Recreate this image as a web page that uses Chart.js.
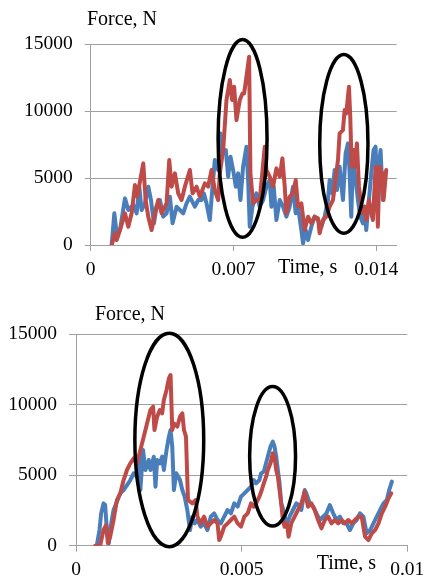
<!DOCTYPE html>
<html><head><meta charset="utf-8">
<script src="https://cdn.jsdelivr.net/npm/chart.js@4/dist/chart.umd.min.js"></script>
<style>
html,body{margin:0;padding:0;background:#fff;overflow:hidden;width:423px;height:577px;position:relative}
canvas{position:absolute;left:0}
</style></head><body>
<canvas id="c1" width="460" height="290" style="top:0px"></canvas>
<canvas id="c2" width="460" height="287" style="top:290px"></canvas>
<script>
// ---------- DATA (time in ms, force in N) ----------
const Y_TICKS = [0, 5000, 10000, 15000];
const Y_TICK_LABELS = ['0', '5000', '10000', '15000'];
const Y_TITLE = 'Force, N';
const X_TITLE = 'Time, s';

// Top chart
const TOP_X_TICKS = [0, 7, 14];
const TOP_X_TICK_LABELS = ['0', '0.007', '0.014'];
const TOP_BLUE_T = [1.028,1.158,1.272,1.436,1.680,1.843,2.088,2.251,2.382,2.496,2.659,2.822,2.953,3.100,3.230,3.393,3.556,3.719,3.883,4.013,4.209,4.372,4.535,4.698,4.861,5.106,5.269,5.432,5.546,5.677,5.840,5.971,6.085,6.248,6.362,6.493,6.623,6.737,6.852,6.982,7.113,7.227,7.341,7.471,7.635,7.716,7.798,7.928,8.124,8.287,8.450,8.613,8.777,8.858,8.972,9.103,9.266,9.429,9.592,9.755,9.918,10.049,10.163,10.326,10.408,10.538,10.653,10.816,10.979,11.142,11.305,11.468,11.631,11.713,11.843,11.958,12.072,12.202,12.365,12.496,12.610,12.692,12.773,12.855,12.985,13.100,13.214,13.344,13.426,13.507,13.638,13.752,13.866,13.964,14.029,14.127,14.209,14.290,14.323];
const TOP_BLUE_F = [0,2366,872,1121,3486,2615,2988,2366,4358,2615,3113,4358,3362,1619,2864,3362,2117,2366,3611,1619,2864,2615,2366,3113,3611,2864,3362,3362,3860,3113,1868,4358,6350,5603,8342,6848,7097,5105,6599,5603,4358,5354,3362,5852,7346,4856,1370,2864,3860,2864,3362,4358,4856,2864,4358,1868,3362,2864,2117,2864,4358,2366,2864,1121,125,1121,373,1370,2117,1868,1370,2117,3362,4856,3860,5603,4109,5852,3362,6848,7595,5354,2117,6350,4856,3362,2117,1619,2864,1121,3362,5354,7097,7346,4856,5852,7097,4358,3362];
const TOP_RED_T = [1.028,1.191,1.272,1.436,1.680,1.843,2.007,2.170,2.284,2.414,2.577,2.692,2.822,2.985,3.148,3.312,3.475,3.719,3.850,3.964,4.127,4.290,4.454,4.617,4.861,4.992,5.188,5.351,5.595,5.759,5.922,6.085,6.248,6.330,6.493,6.656,6.819,6.933,7.031,7.145,7.308,7.439,7.520,7.635,7.765,7.830,7.961,8.124,8.287,8.532,8.613,8.777,8.940,9.103,9.266,9.397,9.511,9.592,9.755,9.918,10.049,10.163,10.326,10.489,10.653,10.816,10.979,11.142,11.223,11.387,11.550,11.713,11.876,11.958,12.121,12.202,12.365,12.447,12.529,12.659,12.724,12.790,12.887,12.953,13.051,13.149,13.312,13.426,13.507,13.638,13.752,13.834,13.964,14.029,14.078,14.160,14.290,14.356,14.486];
const TOP_RED_F = [0,872,373,1121,2366,1370,2366,4482,3611,4731,6101,3362,2117,1121,2366,3362,2366,3113,6350,4358,5354,3860,3362,4358,5603,3860,4358,3611,4607,4358,5603,4109,3362,5354,7097,10832,12326,10832,11828,9338,10832,11330,11330,12575,14069,5354,3113,3362,3362,7346,5603,5105,4358,5727,5105,6474,4358,2366,3611,3860,4856,2864,3113,1121,2117,1619,2117,1992,872,1868,2117,2864,3362,4358,6350,8342,8591,10085,9836,11828,9587,5852,7097,5852,7595,4358,2366,2864,1868,3362,2366,1868,5852,3611,1370,5852,5354,3362,5603];

// Bottom chart
const BOT_X_TICKS = [0, 5, 10];
const BOT_X_TICK_LABELS = ['0', '0.005', '0.01'];
const BOT_BLUE_T = [0.628,0.709,0.759,0.830,0.881,0.931,0.992,1.063,1.134,1.235,1.336,1.437,1.538,1.640,1.741,1.842,1.893,1.943,2.024,2.095,2.196,2.247,2.348,2.399,2.449,2.530,2.601,2.652,2.733,2.804,2.854,2.905,2.955,3.026,3.087,3.138,3.209,3.279,3.360,3.441,3.512,3.583,3.664,3.765,3.866,3.968,4.069,4.170,4.271,4.372,4.474,4.575,4.676,4.777,4.879,4.980,5.081,5.182,5.283,5.364,5.435,5.536,5.587,5.668,5.789,5.870,5.941,5.992,6.043,6.093,6.144,6.194,6.245,6.296,6.377,6.447,6.549,6.650,6.731,6.802,6.903,6.953,7.055,7.156,7.257,7.358,7.459,7.561,7.662,7.763,7.864,7.966,8.067,8.168,8.269,8.370,8.472,8.573,8.674,8.775,8.877,8.978,9.079,9.180,9.281,9.383,9.453,9.534];
const BOT_BLUE_F = [0,1112,2295,3005,2887,1112,166,1585,2532,3123,3714,3951,4306,4661,5134,4898,6317,3951,6790,5371,6080,5371,6317,4188,6080,5844,6317,5371,6790,7737,8210,7027,3951,5134,4898,4661,3951,3478,2532,1112,2058,1585,1822,1349,1585,1112,2058,2295,1822,1585,2058,2532,2295,3005,2768,3478,3714,3951,4188,4661,4424,4661,5134,5253,6317,7027,7382,7027,6317,5371,4424,3005,2650,2058,1585,2058,2532,3005,2887,2532,3951,3714,3005,2768,2295,1822,2058,2295,2887,2295,1822,2058,1585,1585,1112,1585,1822,2295,2058,875,1112,1585,2058,2532,3005,3241,3951,4543];
const BOT_RED_T = [0.577,0.729,0.830,0.911,0.962,1.032,1.134,1.235,1.336,1.437,1.538,1.640,1.741,1.842,1.943,2.045,2.146,2.247,2.328,2.368,2.449,2.530,2.601,2.652,2.733,2.804,2.854,2.905,2.955,3.057,3.138,3.209,3.259,3.320,3.380,3.512,3.613,3.664,3.765,3.866,3.968,4.069,4.170,4.271,4.322,4.372,4.474,4.575,4.676,4.777,4.879,4.980,5.081,5.182,5.283,5.364,5.435,5.536,5.607,5.668,5.739,5.789,5.870,5.941,5.992,6.043,6.093,6.144,6.194,6.245,6.296,6.366,6.417,6.498,6.599,6.700,6.802,6.903,7.004,7.105,7.206,7.308,7.409,7.510,7.611,7.713,7.814,7.915,8.016,8.117,8.219,8.320,8.421,8.522,8.623,8.725,8.826,8.927,9.028,9.130,9.231,9.332,9.433,9.514];
const BOT_RED_F = [0,0,1112,1467,166,639,1822,3241,3714,4661,5371,5844,6199,5844,6790,7737,8683,9630,9866,8210,9157,9630,9393,10340,11049,11877,12114,8210,8683,8447,9157,9393,8210,7735,3241,3005,3241,2058,1585,2058,1349,1585,1822,1585,402,639,1349,1585,1822,2058,1585,1349,2058,2295,3005,2768,3005,3478,3951,4424,4898,5371,5844,6554,6317,5371,4898,3951,3005,1822,1349,1585,639,1585,2058,2532,3005,3833,2768,3005,2532,1822,1230,1822,2058,1585,1822,1585,1822,1585,1822,1585,1822,2058,2058,639,402,875,1112,1585,2295,2768,3360,3714];

// Highlight ellipses in data units: [centre time ms, centre force N, radius ms, radius N]
const TOP_ELLIPSES = [[7.445, 7963, 1.20, 7388], [12.409, 7552, 1.183, 6679]];
const BOT_ELLIPSES = [[2.816, 7500, 1.039, 7571], [5.934, 6343, 0.693, 4945]];

// ---------- DRAWING ----------
const BLUE = '#4a7ebb', RED = '#be4b48', GRID = '#a0a0a0';
const TICK_FONT = {family: '"Liberation Serif", "Times New Roman", serif', size: 19.5, lineHeight: 1.2};

function pts(T, F) { return T.map((t, i) => ({x: t, y: F[i]})); }

function makeChart(id, o) {
  const cv = document.getElementById(id);
  const W = cv.width, H = cv.height;
  const labelsPlugin = {
    id: 'extras',
    afterDraw(chart) {
      const ctx = chart.ctx, xs = chart.scales.x, ys = chart.scales.y;
      ctx.save();
      ctx.strokeStyle = '#000';
      ctx.lineWidth = 3.5;
      o.ellipses.forEach(e => {
        const cx = xs.getPixelForValue(e[0]), cy = ys.getPixelForValue(e[1]);
        const rx = Math.abs(xs.getPixelForValue(e[0] + e[2]) - cx);
        const ry = Math.abs(ys.getPixelForValue(e[1] + e[3]) - cy);
        ctx.beginPath();
        ctx.ellipse(cx, cy, rx, ry, 0, 0, Math.PI * 2);
        ctx.stroke();
      });
      ctx.fillStyle = '#000';
      ctx.font = '20px "Liberation Serif", "Times New Roman", serif';
      ctx.textBaseline = 'alphabetic';
      ctx.textAlign = 'left';
      ctx.fillText(Y_TITLE, o.yTitle[0], o.yTitle[1]);
      ctx.fillText(X_TITLE, o.xTitle[0], o.xTitle[1]);
      ctx.restore();
    }
  };
  return new Chart(cv, {
    type: 'line',
    data: {
      datasets: [
        {data: pts(o.redT, o.redF), borderColor: RED, borderWidth: 4, pointRadius: 0, tension: 0, borderJoinStyle: 'round', borderCapStyle: 'round'},
        {data: pts(o.blueT, o.blueF), borderColor: BLUE, borderWidth: 4, pointRadius: 0, tension: 0, borderJoinStyle: 'round', borderCapStyle: 'round'}
      ]
    },
    options: {
      responsive: false,
      animation: false,
      devicePixelRatio: 1,
      layout: {padding: {top: o.area.top, left: 0, right: W - o.area.right, bottom: 0}},
      plugins: {legend: {display: false}, tooltip: {enabled: false}},
      scales: {
        x: {
          type: 'linear', min: 0, max: o.xMax,
          afterBuildTicks: s => { s.ticks = o.xTicks.map(v => ({value: v})); },
          afterFit: s => { s.height = H - o.area.bottom; },
          ticks: {autoSkip: false, maxRotation: 0, padding: o.xPad, color: '#000', font: TICK_FONT,
                  callback: (v, i) => o.xLabels[i]},
          grid: {drawOnChartArea: false, drawTicks: true, tickLength: 6, color: GRID, lineWidth: 1},
          border: {display: true, color: GRID, width: 1}
        },
        y: {
          min: 0, max: 15000,
          afterBuildTicks: s => { s.ticks = Y_TICKS.map(v => ({value: v})); },
          afterFit: s => { s.width = o.area.left; },
          ticks: {padding: 12, color: '#000', font: TICK_FONT, callback: (v, i) => Y_TICK_LABELS[i]},
          grid: {drawTicks: true, tickLength: o.yTick, color: GRID, lineWidth: 1},
          border: {display: true, color: GRID, width: 1}
        }
      }
    },
    plugins: [labelsPlugin]
  });
}

makeChart('c1', {
  area: {left: 90.7, right: 396.7, top: 44.3, bottom: 245},
  xMax: 15, xTicks: TOP_X_TICKS, xLabels: TOP_X_TICK_LABELS, xPad: 7, yTick: 6,
  blueT: TOP_BLUE_T, blueF: TOP_BLUE_F, redT: TOP_RED_T, redF: TOP_RED_F,
  ellipses: TOP_ELLIPSES, yTitle: [87, 24.5], xTitle: [278, 273.3]
});
makeChart('c2', {
  area: {left: 76, right: 407.3, top: 44.3, bottom: 255.7},
  xMax: 10, xTicks: BOT_X_TICKS, xLabels: BOT_X_TICK_LABELS, xPad: 6, yTick: 7,
  blueT: BOT_BLUE_T, blueF: BOT_BLUE_F, redT: BOT_RED_T, redF: BOT_RED_F,
  ellipses: BOT_ELLIPSES, yTitle: [95, 29.5], xTitle: [316.7, 279]
});
</script>
</body></html>
